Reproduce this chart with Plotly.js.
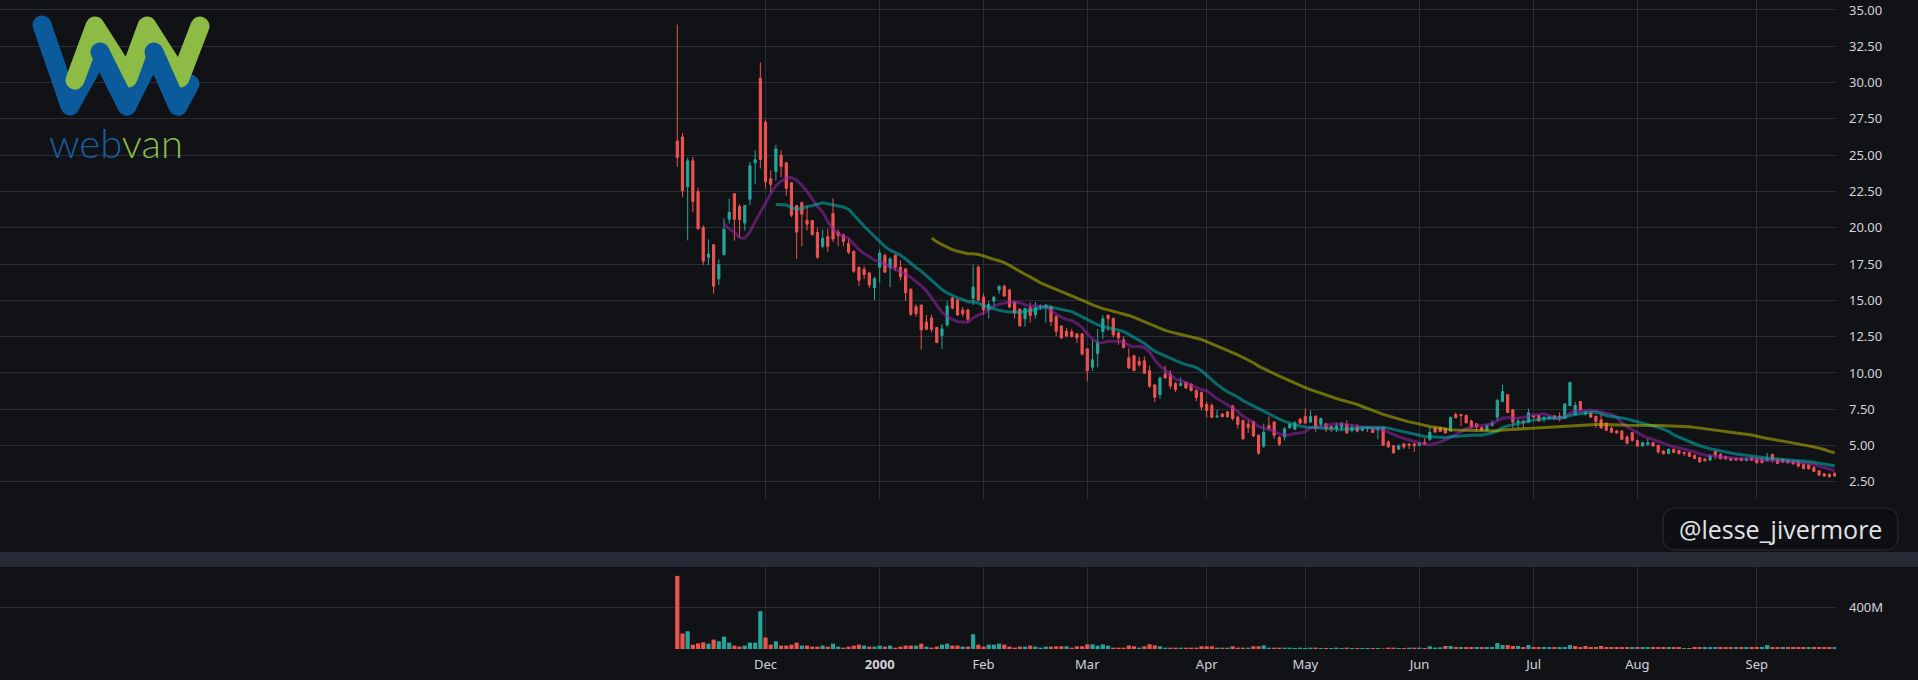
<!DOCTYPE html>
<html>
<head>
<meta charset="utf-8">
<script src="https://cdn.plot.ly/plotly-3.0.1.min.js"></script>
<style>
  html, body { margin: 0; padding: 0; background: #111216; }
  #chart { width: 1918px; height: 680px; }
</style>
</head>
<body>
<div id="chart"></div>
<script>
// ---------------- DATA ----------------
const firstDay = '1999-11-05';
const holidays = ['1999-11-25','1999-12-24','2000-01-17','2000-02-21','2000-04-21','2000-05-29','2000-07-04','2000-09-04'];

const openP = [
25.98,26.25,22.83,24.61,22.49,20.02,17.97,18.83,16.48,18.15,
20.59,22.35,21.46,20.32,21.96,24.47,30.29,27.28,23.38,23.88,
25.00,24.47,23.10,21.53,21.73,20.50,20.50,19.68,18.72,19.40,
20.98,19.70,19.52,18.92,18.38,17.28,17.14,16.89,15.87,17.28,
18.10,17.24,18.10,17.28,17.17,15.77,14.56,14.68,13.51,13.79,
13.13,12.58,13.31,15.16,15.02,14.34,14.34,15.14,17.28,15.23,
14.34,14.95,15.71,15.98,15.71,14.88,14.40,13.74,14.50,14.02,
14.54,14.50,14.59,13.88,13.24,12.87,12.83,12.69,12.69,11.66,
10.39,11.34,12.85,13.99,13.76,12.76,12.28,11.04,11.19,10.80,
10.84,10.16,9.17,8.51,9.93,9.93,9.27,9.15,9.36,9.24,
8.79,8.65,7.83,7.76,6.96,7.17,7.33,7.74,6.96,6.73,
6.48,6.66,5.71,4.97,6.39,6.62,5.57,5.59,6.23,6.12,
6.82,7.01,6.62,7.03,6.46,6.50,6.32,6.16,6.27,6.46,
6.05,6.32,6.05,6.16,6.19,6.07,6.25,5.25,4.99,4.75,
5.11,5.09,5.11,5.02,5.23,5.43,6.21,6.23,6.16,6.00,
7.14,7.14,7.07,6.69,6.50,6.25,6.05,6.39,6.96,8.03,
8.51,7.46,6.60,6.69,6.62,7.05,7.07,6.87,6.89,7.05,
7.03,6.89,7.74,7.14,8.03,7.17,7.23,7.01,6.78,6.55,
6.19,6.00,6.00,5.59,5.89,5.34,4.97,5.09,5.20,5.02,
4.63,4.45,4.75,4.66,4.54,4.50,4.34,4.18,4.08,4.00,
4.60,4.40,4.26,4.13,4.13,4.13,3.96,4.17,4.09,4.04,
3.95,4.40,4.04,4.04,3.99,3.88,3.88,3.70,3.67,3.49,
3.26,3.06,3.03,3.10];

const highP = [
33.99,26.53,24.82,24.88,22.76,20.16,19.20,18.88,17.83,20.64,
22.01,22.40,21.62,21.53,24.52,25.34,31.39,27.46,23.97,25.71,
25.34,24.54,23.10,21.53,21.80,21.53,20.50,20.00,19.88,19.95,
22.01,19.88,19.59,19.27,18.42,17.35,17.35,16.94,16.62,18.49,
18.22,17.97,18.15,17.76,17.17,15.82,14.72,14.68,13.99,14.02,
13.17,13.35,14.95,15.25,15.11,14.54,14.43,17.46,17.42,15.48,
14.95,15.25,15.98,16.09,15.80,14.91,14.45,14.45,14.84,14.88,
14.72,14.72,14.61,13.99,13.26,13.10,13.03,12.74,12.76,11.66,
12.28,13.03,13.99,13.99,13.81,12.83,12.51,11.71,11.25,11.12,
11.12,10.50,9.24,9.75,10.50,10.20,9.36,9.70,9.40,9.29,
8.90,8.72,8.03,7.92,7.46,7.24,7.35,7.76,7.07,6.78,
6.73,6.69,5.75,6.50,7.01,6.69,5.64,6.27,6.55,6.69,
6.92,7.56,7.42,7.07,6.92,6.55,6.39,6.55,6.62,6.73,
6.50,6.46,6.32,6.27,6.27,6.27,6.27,5.36,5.04,5.09,
5.20,5.18,5.18,5.23,5.50,6.27,6.27,6.27,6.21,7.01,
7.28,7.19,7.14,6.78,6.55,6.27,6.46,6.73,8.22,9.20,
8.51,7.51,6.85,6.73,7.53,7.10,7.12,7.01,7.01,7.07,
7.28,7.92,9.40,8.01,8.06,7.42,7.28,7.07,7.19,6.57,
6.32,6.09,6.05,5.71,5.93,5.41,5.23,5.48,5.25,5.07,
4.68,4.79,4.79,4.72,4.56,4.56,4.36,4.22,4.11,4.40,
4.63,4.48,4.28,4.17,4.18,4.18,4.15,4.20,4.15,4.17,
4.50,4.40,4.11,4.09,4.04,3.95,3.99,3.79,3.77,3.58,
3.31,3.10,3.08,3.12];

const lowP = [
24.20,22.10,19.13,21.07,19.86,17.42,17.42,15.45,16.05,18.10,
20.29,19.11,19.34,19.81,21.55,22.99,24.08,22.71,22.44,23.24,
23.47,22.21,20.73,17.85,18.72,19.81,19.47,17.85,18.58,18.33,
19.02,18.72,18.72,18.19,16.89,15.98,16.48,15.87,15.02,16.21,
16.89,15.91,17.01,16.37,14.95,13.92,13.86,11.60,12.94,12.78,
12.05,11.66,13.19,14.38,13.93,13.88,13.47,14.68,14.95,13.99,
13.74,14.56,15.43,15.25,14.47,13.74,13.19,13.19,13.47,13.74,
14.34,13.47,13.24,12.55,12.35,12.44,12.44,12.05,11.19,9.43,
10.16,10.39,12.33,12.90,12.44,11.94,11.69,10.27,10.16,10.43,
9.93,8.97,7.99,8.22,9.59,8.88,8.67,9.06,8.90,8.72,
8.06,7.42,6.92,6.92,6.92,6.96,6.94,6.73,6.16,5.41,
5.87,5.59,4.38,4.84,6.07,5.48,4.97,5.36,6.16,6.12,
6.46,6.50,6.55,5.93,6.27,5.93,5.93,5.93,6.00,5.82,
5.91,5.91,5.98,5.93,5.87,5.43,4.99,4.86,4.43,4.70,
4.77,4.77,4.56,4.95,5.04,5.32,5.87,5.93,5.84,5.93,
6.87,6.35,6.50,6.21,6.00,5.98,6.00,6.32,6.69,7.99,
7.24,6.21,6.16,6.21,6.55,6.89,6.66,6.62,6.78,6.80,
6.66,6.85,7.72,7.07,7.42,7.07,6.92,6.21,6.16,6.00,
5.87,5.82,5.41,5.09,5.27,4.91,4.95,4.97,4.93,4.43,
4.40,4.40,4.47,4.38,4.29,4.22,4.06,3.81,3.92,3.93,
4.06,4.05,4.02,3.94,3.95,3.92,3.93,3.95,3.77,3.77,
3.92,3.81,3.72,3.81,3.77,3.70,3.47,3.38,3.35,3.17,
2.90,2.85,2.81,2.88];

const closeP = [
24.84,22.55,24.61,21.80,19.93,17.69,18.19,15.98,17.46,19.88,
21.05,20.59,20.55,21.53,24.27,24.68,24.70,23.17,22.99,25.43,
24.22,22.71,20.87,19.70,20.93,20.25,19.52,17.97,19.27,18.72,
19.22,19.47,19.06,18.31,17.01,16.39,16.78,16.05,16.50,18.26,
16.94,17.85,17.28,16.62,15.52,14.04,14.08,12.97,13.01,13.00,
12.10,13.03,14.61,14.47,13.99,14.06,13.70,15.91,15.02,14.36,
14.72,15.23,15.98,15.30,14.54,14.13,13.24,14.45,13.95,14.50,
14.61,14.68,13.54,12.87,12.40,12.55,12.51,12.42,11.30,10.16,
10.91,12.10,13.74,13.74,12.62,12.42,11.76,10.34,10.16,10.57,
9.98,9.09,8.33,9.65,9.66,9.11,8.86,9.27,8.97,8.79,
8.31,7.65,7.42,6.94,7.03,6.98,6.98,6.87,6.46,5.46,
6.25,5.66,4.47,5.91,6.16,5.71,5.09,6.16,6.46,6.55,
6.55,6.55,7.01,6.23,6.87,6.16,6.16,6.37,6.50,5.87,
6.23,6.00,6.19,6.25,5.89,6.25,5.02,4.91,4.50,4.97,
4.91,5.02,5.00,5.18,5.09,5.91,5.93,5.98,5.87,6.94,
6.92,7.07,6.57,6.25,6.27,6.05,6.39,6.55,8.10,8.72,
7.28,6.62,6.69,6.62,7.26,6.96,6.69,6.94,6.96,6.85,
6.94,7.87,9.34,7.76,7.46,7.26,6.96,6.66,6.21,6.05,
5.91,5.87,5.43,5.16,5.36,4.97,5.20,5.20,4.97,4.56,
4.43,4.75,4.54,4.45,4.45,4.25,4.11,3.88,3.95,4.28,
4.34,4.10,4.08,3.99,4.00,3.97,4.13,3.99,3.81,3.83,
4.09,4.02,3.77,3.86,3.81,3.74,3.60,3.40,3.40,3.22,
2.97,2.90,2.85,2.90];

// volume in millions of shares
const volumeM = [
709,150,172,42,55,65,52,91,75,120,
62,33,23,33,62,62,367,111,42,75,
33,33,42,62,33,33,23,23,33,23,
52,23,13,23,33,42,33,23,23,33,
23,33,13,23,33,33,33,52,23,13,
23,42,52,33,33,23,23,143,42,23,
42,42,52,42,23,13,23,23,33,23,
13,23,23,26,26,26,13,26,26,45,
45,32,45,32,13,13,13,35,26,13,
26,45,35,26,13,13,13,13,13,13,
13,26,26,26,13,13,13,26,13,13,
13,26,26,35,13,13,13,13,13,10,
13,10,13,13,10,10,10,13,10,13,
10,10,10,10,10,10,6,13,13,10,
10,13,13,13,10,26,13,16,29,29,
19,19,19,19,19,19,19,19,58,38,
38,29,29,19,38,19,19,19,19,19,
19,19,38,29,19,29,19,19,29,19,
19,19,19,19,19,19,19,19,19,19,
19,19,19,19,10,10,19,19,19,19,
19,19,19,19,19,19,19,19,19,19,
38,19,19,19,19,19,19,19,19,19,
19,19,19,19];

const monthTickDates = ['1999-12-01','2000-01-03','2000-02-01','2000-03-01','2000-04-03','2000-05-01','2000-06-01','2000-07-03','2000-08-01','2000-09-01'];
const monthTickLabels = ['Dec','<b>2000</b>','Feb','Mar','Apr','May','Jun','Jul','Aug','Sep'];
const priceTicks = [2.5,5,7.5,10,12.5,15,17.5,20,22.5,25,27.5,30,32.5,35];
const volumeTicks = [400e6];
const volumeTickLabels = ['400M'];
const maPeriods = [10, 20, 50];

// ---------------- helpers ----------------
function tradingDays(start, n, hol) {
  const out = [];
  const d = new Date(start + 'T00:00:00Z');
  while (out.length < n) {
    const s = d.toISOString().slice(0, 10);
    const wd = d.getUTCDay();
    if (wd !== 0 && wd !== 6 && hol.indexOf(s) < 0) out.push(s);
    d.setUTCDate(d.getUTCDate() + 1);
  }
  return out;
}
function sma(arr, n) {
  return arr.map((v, i) => {
    if (i < n - 1) return null;
    let s = 0;
    for (let k = i - n + 1; k <= i; k++) s += arr[k];
    return s / n;
  });
}

const dates = tradingDays(firstDay, closeP.length, holidays);

// ---------------- styles ----------------
const BG = '#111216';
const GRID = '#2a2e39';
const UP = '#26a69a';
const DOWN = '#ef5350';
const TXT = '#d1d4dc';
const FONT = 'Noto Sans, Open Sans, sans-serif';

const W = 1918, H = 680;
const PLOT_R = 1836, PLOT_B = 649;   // plot area in pixels
function px(x) { return x / PLOT_R; }
function py(y) { return (PLOT_B - y) / PLOT_B; }

const volColors = closeP.map((c, i) => {
  if (i === 0) return c >= openP[0] ? UP : DOWN;
  return c >= closeP[i - 1] ? UP : DOWN;
});

const maColors = ['rgba(150,36,170,0.55)', 'rgba(0,180,180,0.55)', 'rgba(185,185,0,0.55)'];

const traces = [
  {
    type: 'bar', x: dates, y: volumeM.map(v => v * 1e6),
    xaxis: 'x', yaxis: 'y2',
    marker: { color: volColors, line: { width: 0 } },
    hoverinfo: 'skip'
  },
  {
    type: 'candlestick', x: dates,
    open: openP, high: highP, low: lowP, close: closeP,
    xaxis: 'x', yaxis: 'y',
    increasing: { line: { color: UP, width: 1 }, fillcolor: UP },
    decreasing: { line: { color: DOWN, width: 1 }, fillcolor: DOWN },
    whiskerwidth: 0,
    hoverinfo: 'skip'
  }
];
maPeriods.forEach((p, k) => {
  traces.push({
    type: 'scatter', mode: 'lines', x: dates, y: sma(closeP, p),
    xaxis: 'x', yaxis: 'y',
    line: { color: maColors[k], width: 3 },
    hoverinfo: 'skip'
  });
});

// rounded box path (watermark)
function roundBox(x0, y0, x1, y1, r) {
  const P = (x, y) => px(x) + ',' + py(y);
  return 'M' + P(x0 + r, y0) + ' L' + P(x1 - r, y0) + ' Q' + P(x1, y0) + ' ' + P(x1, y0 + r) +
    ' L' + P(x1, y1 - r) + ' Q' + P(x1, y1) + ' ' + P(x1 - r, y1) +
    ' L' + P(x0 + r, y1) + ' Q' + P(x0, y1) + ' ' + P(x0, y1 - r) +
    ' L' + P(x0, y0 + r) + ' Q' + P(x0, y0) + ' ' + P(x0 + r, y0) + ' Z';
}

const logoSvg =
  '<svg xmlns="http://www.w3.org/2000/svg" width="180" height="110" viewBox="0 0 180 110" preserveAspectRatio="none">' +
  '<g fill="none" stroke-linecap="round" stroke-linejoin="round" stroke-width="19">' +
  '<polyline points="12,15 40,96 70,42 97,96 124,42 148,96 160,74" stroke="#0b5a9b"/>' +
  '<polyline points="45,70 65,16 98,68 117,16 150,68 170,16" stroke="#8cbb46"/>' +
  '<polyline points="70,42 97,96" stroke="#0b5a9b"/>' +
  '<polyline points="124,42 148,96" stroke="#0b5a9b"/>' +
  '</g></svg>';
const logoSrc = 'data:image/svg+xml;base64,' + btoa(logoSvg);

const layout = {
  width: W, height: H,
  paper_bgcolor: BG, plot_bgcolor: BG,
  margin: { l: 0, r: W - PLOT_R, t: 0, b: H - PLOT_B, pad: 0 },
  showlegend: false,
  boxgap: 0.4,
  bargap: 0.2,
  font: { family: FONT, color: TXT, size: 13 },
  xaxis: {
    type: 'category',
    range: [-130.5, 223.26],
    tickvals: monthTickDates, ticktext: monthTickLabels,
    showgrid: true, gridcolor: GRID, gridwidth: 1,
    zeroline: false, showline: false, ticks: '',
    ticklabelstandoff: 6,
    tickfont: { family: FONT, size: 13, color: TXT },
    anchor: 'y2',
    rangeslider: { visible: false },
    fixedrange: true
  },
  yaxis: {
    domain: [py(499.3), 1],
    range: [1.30, 35.685],
    side: 'right',
    tickvals: priceTicks, tickformat: '.2f',
    showgrid: true, gridcolor: GRID, gridwidth: 1,
    zeroline: false, showline: false, ticks: '',
    ticklabelstandoff: 12,
    ticklabeloverflow: 'allow',
    tickfont: { family: FONT, size: 13, color: TXT },
    fixedrange: true
  },
  yaxis2: {
    domain: [0, py(567)],
    range: [0, 795e6],
    side: 'right',
    tickvals: volumeTicks, ticktext: volumeTickLabels,
    showgrid: true, gridcolor: GRID, gridwidth: 1,
    zeroline: false, showline: false, ticks: '',
    ticklabelstandoff: 12,
    ticklabeloverflow: 'allow',
    tickfont: { family: FONT, size: 13, color: TXT },
    fixedrange: true
  },
  shapes: [
    { type: 'rect', xref: 'paper', yref: 'paper', x0: 0, x1: W / PLOT_R, y0: py(567), y1: py(552),
      fillcolor: '#262a36', line: { width: 0 }, layer: 'above' },
    { type: 'path', xref: 'paper', yref: 'paper', path: roundBox(1663, 508, 1898, 550, 13),
      fillcolor: '#0d0f13', line: { color: '#2a2e39', width: 1 }, layer: 'above' }
  ],
  annotations: [
    { xref: 'paper', yref: 'paper', x: px(1780.5), y: py(529), xanchor: 'center', yanchor: 'middle',
      text: '@lesse_jivermore', showarrow: false,
      font: { family: 'Open Sans, Noto Sans, sans-serif', size: 25, color: '#e1e3e8' } },
    { xref: 'paper', yref: 'paper', x: px(115.5), y: py(143), xanchor: 'center', yanchor: 'middle',
      text: '<span style="color:#1a5e9e">web</span><span style="color:#8cbc4a">van</span>',
      showarrow: false,
      font: { family: 'Lato, Noto Sans, sans-serif', size: 40, weight: 300, color: '#1a5e9e' } }
  ],
  images: [
    { source: logoSrc, xref: 'paper', yref: 'paper',
      x: px(30), y: py(10), sizex: 180 / PLOT_R, sizey: 110 / PLOT_B,
      xanchor: 'left', yanchor: 'top', sizing: 'stretch', layer: 'above' }
  ]
};

Plotly.newPlot('chart', traces, layout, { displayModeBar: false, staticPlot: true });
</script>
</body>
</html>
